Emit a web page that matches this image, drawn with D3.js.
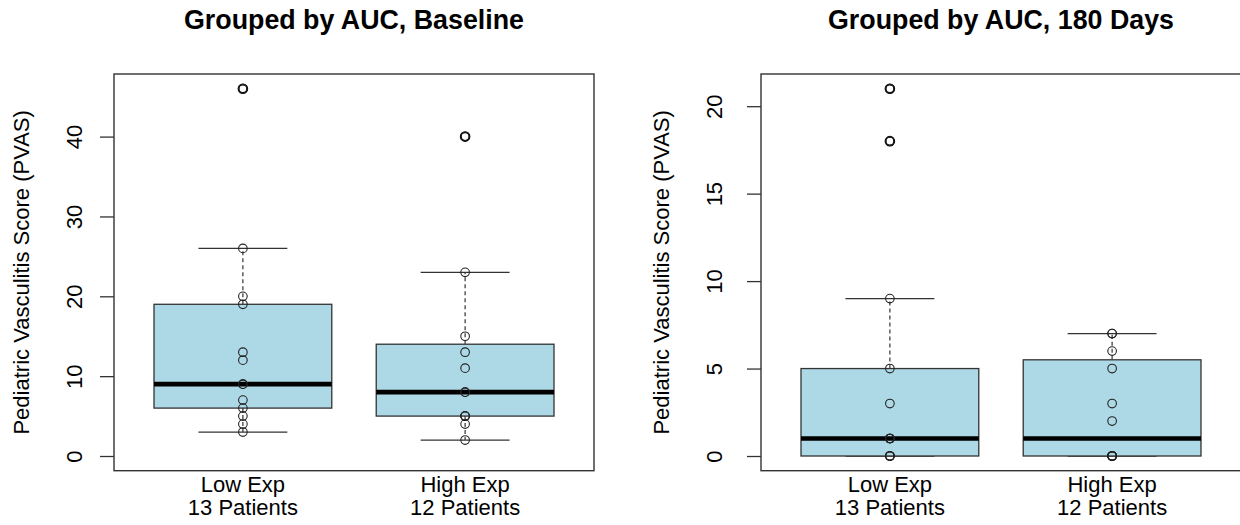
<!DOCTYPE html>
<html>
<head>
<meta charset="utf-8">
<script src="https://cdn.jsdelivr.net/npm/d3@7"></script>
<style>
  body { margin: 0; background: #fff; }
  svg { display: block; }
  text { font-family: "Liberation Sans", Arial, Helvetica, sans-serif; fill: #000; }
</style>
</head>
<body>
<svg id="chart" width="1240" height="525"></svg>
<script>
// Group labels shown under each box
const groups = ["Low Exp", "High Exp"];
const groupCounts = ["13 Patients", "12 Patients"];

// PVAS scores per patient, baseline visit
const baselineLow = [3, 4, 5, 6, 7, 9, 9, 12, 13, 19, 20, 26, 46];
const baselineHigh = [2, 4, 5, 5, 5, 8, 8, 11, 13, 15, 23, 40];

// PVAS scores per patient, 180-day visit
const day180Low = [0, 0, 0, 0, 1, 1, 1, 1, 3, 5, 9, 18, 21];
const day180High = [0, 0, 0, 0, 0, 0, 2, 3, 5, 6, 7, 7];

// Y-axis tick values
const baselineTicks = [0, 10, 20, 30, 40];
const day180Ticks = [0, 5, 10, 15, 20];

const titles = ["Grouped by AUC, Baseline", "Grouped by AUC, 180 Days"];
const yLabel = "Pediatric Vasculitis Score (PVAS)";

const panels = [
  { title: titles[0], series: [baselineLow, baselineHigh], ticks: baselineTicks,
    x0: 114, x1: 594, tickLabelGap: 32, yLabelGap: 85.5 },
  { title: titles[1], series: [day180Low, day180High], ticks: day180Ticks,
    x0: 761, x1: 1241, tickLabelGap: 39, yLabelGap: 92.5 }
];
const plotTop = 74, plotBottom = 470.7;
const pointR = 4.3;

const svg = d3.select("#chart");

// Tukey five-number summary (same hinges as R's boxplot)
function fivenum(values) {
  const x = [...values].sort((a, b) => a - b);
  const n = x.length;
  const n4 = Math.floor((n + 3) / 2) / 2;
  const d = [1, n4, (n + 1) / 2, n + 1 - n4, n];
  return d.map(p => 0.5 * (x[Math.floor(p) - 1] + x[Math.ceil(p) - 1]));
}

function boxStats(values) {
  const f = fivenum(values);
  const iqr = f[3] - f[1];
  const loFence = f[1] - 1.5 * iqr, hiFence = f[3] + 1.5 * iqr;
  const inside = values.filter(v => v >= loFence && v <= hiFence);
  return {
    q1: f[1], med: f[2], q3: f[3],
    lo: d3.min(inside), hi: d3.max(inside),
    out: values.filter(v => v < loFence || v > hiFence)
  };
}

panels.forEach(p => {
  const n = p.series.length;
  const x = d3.scaleLinear()
    .domain([0.5 - 0.04 * n, n + 0.5 + 0.04 * n])
    .range([p.x0, p.x1]);

  const yMax = d3.max(p.series.flat());
  const pad = 0.04 * yMax;
  const y = d3.scaleLinear()
    .domain([0 - pad, yMax + pad])
    .range([plotBottom, plotTop]);

  const g = svg.append("g");
  const boxW = x(1.4) - x(1);   // half of 0.8 box width
  const stapleW = x(1.2) - x(1); // half of 0.4 staple width

  p.series.forEach((vals, i) => {
    const s = boxStats(vals);
    const cx = x(i + 1);
    const bg = g.append("g");

    // dashed whiskers
    bg.append("line")
      .attr("x1", cx).attr("x2", cx).attr("y1", y(s.q3)).attr("y2", y(s.hi))
      .attr("stroke", "#333").attr("stroke-width", 1.2).attr("stroke-dasharray", "4,3");
    bg.append("line")
      .attr("x1", cx).attr("x2", cx).attr("y1", y(s.q1)).attr("y2", y(s.lo))
      .attr("stroke", "#333").attr("stroke-width", 1.2).attr("stroke-dasharray", "4,3");
    // staples
    [s.hi, s.lo].forEach(v => {
      bg.append("line")
        .attr("x1", cx - stapleW).attr("x2", cx + stapleW)
        .attr("y1", y(v)).attr("y2", y(v))
        .attr("stroke", "#333").attr("stroke-width", 1.3);
    });
    // box
    bg.append("rect")
      .attr("x", cx - boxW).attr("width", 2 * boxW)
      .attr("y", y(s.q3)).attr("height", y(s.q1) - y(s.q3))
      .attr("fill", "#add8e6").attr("stroke", "#333").attr("stroke-width", 1.3);
    // median
    bg.append("line")
      .attr("x1", cx - boxW).attr("x2", cx + boxW)
      .attr("y1", y(s.med)).attr("y2", y(s.med))
      .attr("stroke", "#000").attr("stroke-width", 4.6);
    // outliers from the boxplot
    bg.selectAll("circle.out").data(s.out).join("circle")
      .attr("class", "out")
      .attr("cx", cx).attr("cy", d => y(d)).attr("r", pointR)
      .attr("fill", "none").attr("stroke", "#000").attr("stroke-width", 2);
    // individual patient points
    bg.selectAll("circle.pt").data(vals).join("circle")
      .attr("class", "pt")
      .attr("cx", cx).attr("cy", d => y(d)).attr("r", pointR)
      .attr("fill", "none").attr("stroke", "#222").attr("stroke-width", 1.1);
  });

  // frame
  g.append("rect")
    .attr("x", p.x0).attr("y", plotTop)
    .attr("width", p.x1 - p.x0).attr("height", plotBottom - plotTop)
    .attr("fill", "none").attr("stroke", "#333").attr("stroke-width", 1.4);

  // y axis
  const ax = g.append("g")
    .attr("transform", `translate(${p.x0},0)`)
    .call(d3.axisLeft(y).tickValues(p.ticks).tickSize(14).tickSizeOuter(0));
  ax.select(".domain").remove();
  ax.selectAll(".tick line").attr("stroke", "#333").attr("stroke-width", 1.3);
  ax.selectAll(".tick text")
    .attr("x", null).attr("dy", null)
    .attr("text-anchor", "middle")
    .attr("transform", `translate(${-p.tickLabelGap},0) rotate(-90)`)
    .style("font-size", "22px")
    .style("font-family", "'Liberation Sans', Arial, sans-serif")
    .attr("fill", "#000");

  // y label
  g.append("text")
    .attr("transform", `translate(${p.x0 - p.yLabelGap},${(plotTop + plotBottom) / 2}) rotate(-90)`)
    .attr("text-anchor", "middle")
    .style("font-size", "22px")
    .text(yLabel);

  // group labels
  groups.forEach((name, i) => {
    g.append("text")
      .attr("x", x(i + 1)).attr("y", 492)
      .attr("text-anchor", "middle").style("font-size", "22px")
      .text(name);
    g.append("text")
      .attr("x", x(i + 1)).attr("y", 515)
      .attr("text-anchor", "middle").style("font-size", "22px")
      .text(groupCounts[i]);
  });

  // title
  g.append("text")
    .attr("x", (p.x0 + p.x1) / 2).attr("y", 29)
    .attr("text-anchor", "middle")
    .style("font-size", "26.8px").style("font-weight", "bold")
    .text(p.title);
});
</script>
</body>
</html>
